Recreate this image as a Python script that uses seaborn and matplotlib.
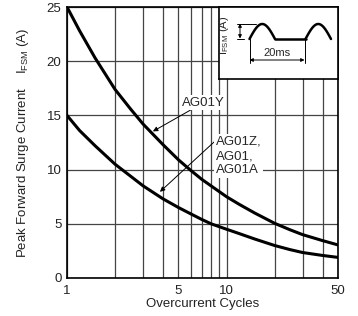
import numpy as np
import pandas as pd
import matplotlib
matplotlib.use("Agg")
import matplotlib.pyplot as plt
import seaborn as sns

# values
cycles = [1, 1.2, 1.5, 2, 2.5, 3, 4, 5, 6, 7, 8, 10, 12, 15, 20, 25, 30, 40, 50]
ifsm_ag01y = [25, 22.8, 20.3, 17.4, 15.6, 14.2, 12.3, 10.9, 9.9, 9.1, 8.5, 7.5, 6.8,
              6.0, 5.05, 4.45, 4.0, 3.45, 3.05]
ifsm_ag01z = [15, 13.6, 12.2, 10.5, 9.4, 8.5, 7.3, 6.5, 5.9, 5.4, 5.0, 4.5, 4.1,
              3.6, 3.0, 2.62, 2.35, 2.08, 1.9]
x_ticks = [1, 5, 10, 50]
x_minor = [2, 3, 4, 6, 7, 8, 9, 20, 30, 40]
y_ticks = [0, 5, 10, 15, 20, 25]

df = pd.DataFrame({
    "cycles": cycles * 2,
    "ifsm": ifsm_ag01y + ifsm_ag01z,
    "part": ["AG01Y"] * len(cycles) + ["AG01Z"] * len(cycles),
})

sns.set_style("white")
plt.rcParams["font.family"] = ["Liberation Sans", "DejaVu Sans"]
plt.rcParams["mathtext.fontset"] = "custom"
plt.rcParams["mathtext.rm"] = "Liberation Sans"

fig = plt.figure(figsize=(3.58, 3.16), dpi=100)
ax = fig.add_axes([67 / 358, 38 / 316, 271 / 358, 271 / 316])

sns.lineplot(data=df, x="cycles", y="ifsm", hue="part", palette=["black", "black"],
             lw=2.2, legend=False, ax=ax, zorder=3)

ax.set_xscale("log")
ax.set_xlim(1, 50)
ax.set_ylim(0, 25)
ax.set_xticks(x_ticks)
ax.set_xticklabels([str(t) for t in x_ticks])
ax.set_xticks(x_minor, minor=True)
ax.set_xticklabels([], minor=True)
ax.set_yticks(y_ticks)
ax.tick_params(which="both", length=0, labelsize=9.5, colors="#222222")
ax.tick_params(axis="x", pad=5)
ax.tick_params(axis="y", pad=4)
ax.grid(True, which="both", color="#444444", lw=0.9)
for s in ax.spines.values():
    s.set_color("black")
    s.set_linewidth(1.2)
ax.set_xlabel("Overcurrent Cycles", fontsize=9.5, labelpad=1, color="#222222")
ax.set_ylabel("")
fig.text(23 / 358, 0.547, r"Peak Forward Surge Current    I$_{\mathregular{FSM}}$ (A)",
         rotation=90, ha="center", va="center", fontsize=9.5, color="#222222")

# labels with arrows
arr = dict(arrowstyle="-|>", color="black", lw=0.7, mutation_scale=7, shrinkA=0, shrinkB=0)
ax.annotate("AG01Y", xy=(0.317, 0.541), xytext=(0.425, 0.647), xycoords="axes fraction",
            textcoords="axes fraction", ha="left", va="center", fontsize=9.5,
            bbox=dict(fc="white", ec="none", pad=1), arrowprops=arr, zorder=5)
ax.annotate("AG01Z,\nAG01,\nAG01A", xy=(0.343, 0.318), xytext=(0.548, 0.45),
            xycoords="axes fraction", textcoords="axes fraction", ha="left", va="center",
            fontsize=9.5, linespacing=1.25, bbox=dict(fc="white", ec="none", pad=1),
            arrowprops=dict(arr, relpos=(0, 0.88)), zorder=5)

# waveform inset
ins = ax.inset_axes([152 / 271, 199 / 271, 119 / 271, 72 / 271])
ins.set_xlim(219, 338)
ins.set_ylim(79, 7)
ins.set_xticks([])
ins.set_yticks([])
ins.set_facecolor("white")
for s in ins.spines.values():
    s.set_color("black")
    s.set_linewidth(1.2)
t = np.linspace(0, np.pi, 40)
ins.plot(249.5 + t / np.pi * 25.5, 39 - 15 * np.sin(t), color="black", lw=1.8)
ins.plot([275, 305.5], [39, 39], color="black", lw=1.8)
ins.plot(305.5 + t / np.pi * 25.5, 39 - 15 * np.sin(t), color="black", lw=1.8)
ins.plot([236.5, 256], [23.5, 23.5], color="black", lw=0.7)
ins.plot([236.5, 244], [38.5, 38.5], color="black", lw=0.7)
ins.annotate("", xy=(240, 23.5), xytext=(240, 38.5),
             arrowprops=dict(arrowstyle="<|-|>", color="black", lw=0.7, mutation_scale=5,
                             shrinkA=0, shrinkB=0))
ins.plot([249.5, 249.5], [39, 63], color="black", lw=0.7)
ins.plot([304.5, 304.5], [39, 63], color="black", lw=0.7)
ins.annotate("", xy=(249.5, 60), xytext=(304.5, 60),
             arrowprops=dict(arrowstyle="<|-|>", color="black", lw=0.7, mutation_scale=5,
                             shrinkA=0, shrinkB=0))
ins.text(277, 52.5, "20ms", ha="center", va="center", fontsize=8)
ins.text(224, 35, r"I$_{\mathregular{FSM}}$ (A)", rotation=90, ha="center", va="center",
         fontsize=8)

fig.savefig("out.png", dpi=100)
